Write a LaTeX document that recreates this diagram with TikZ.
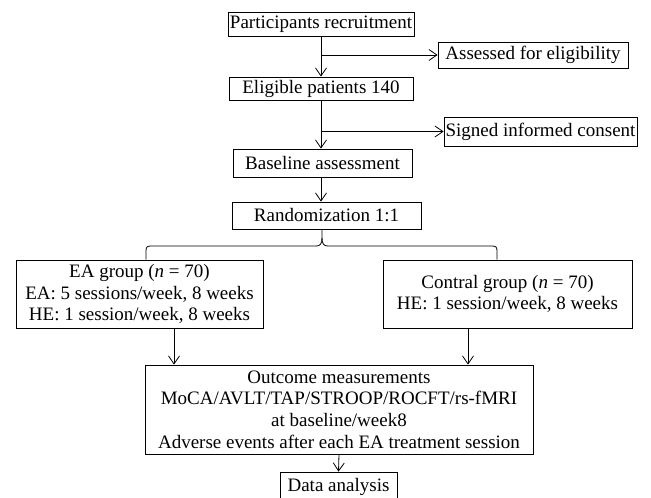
\documentclass[tikz,border=0pt]{standalone}
\usepackage{fontspec}
\setmainfont{Liberation Serif}
\usetikzlibrary{arrows.meta}
\tikzset{
    box/.style={draw, line width=0.8pt, inner sep=0pt, align=center,
        font=\fontsize{19}{21.7}\selectfont},
    link/.style={line width=0.8pt},
    arr/.style={line width=0.8pt, -{Straight Barb[length=8pt,width=11pt]}}
}
\begin{document}
\begin{tikzpicture}[x=1pt,y=-1pt]
    \useasboundingbox (0,0) rectangle (651,498);

    % Enrolment
    \node[box, minimum width=186pt, minimum height=24pt] (recruit) at (321,24) {Participants recruitment};
    \node[box, minimum width=190pt, minimum height=26pt] (assess) at (533,55) {Assessed for eligibility};
    \node[box, minimum width=184pt, minimum height=23pt] (eligible) at (321,88.5) {Eligible patients 140};
    \node[box, minimum width=193pt, minimum height=29pt] (consent) at (540.5,131.5) {Signed informed consent};
    \node[box, minimum width=179pt, minimum height=28pt] (baseline) at (322.5,163) {Baseline assessment};
    \node[box, minimum width=189pt, minimum height=27pt] (rand) at (326.5,215.5) {Randomization 1:1};

    \draw[arr] (recruit.south) -- (eligible.north);
    \draw[arr] (recruit.south |- assess.west) -- (assess.west);
    \draw[arr] (eligible.south) -- (eligible.south |- baseline.north);
    \draw[arr] (eligible.south |- consent.west) -- (consent.west);
    \draw[arr] (eligible.south |- baseline.south) -- (eligible.south |- rand.north);

    % Groups
    \node[box, minimum width=247pt, minimum height=68pt] (ea) at (139.5,294)
        {EA group (\textit{n} = 70)\\EA: 5 sessions/week, 8 weeks\\HE: 1 session/week, 8 weeks};
    \node[box, minimum width=249pt, minimum height=68pt] (ctrl) at (507.5,294)
        {Contral group (\textit{n} = 70)\\HE: 1 session/week, 8 weeks};

    % Allocation brace
    \coordinate (tip) at ([xshift=-4.5pt]rand.south);
    \coordinate (left) at ([xshift=6.5pt]ea.north);
    \coordinate (right) at ([xshift=-10.5pt]ctrl.north);
    \draw[link] (tip) -- (322,238) .. controls (322,244) and (320,246) .. (316,246)
        -- (151,246) .. controls (147,246) and (146,247) .. (146,251) -- (left);
    \draw[link] (322,238) .. controls (322,244) and (324,246) .. (328,246)
        -- (492,246) .. controls (496,246) and (497,247) .. (497,251) -- (right);

    % Follow-up
    \node[box, minimum width=388pt, minimum height=89pt] (outcome) at (339,409.5)
        {Outcome measurements\\MoCA/AVLT/TAP/STROOP/ROCFT/rs-fMRI\\at baseline/week8\\Adverse events after each EA treatment session};
    \node[box, minimum width=117pt, minimum height=30pt] (data) at (338.5,487) {Data analysis};

    \draw[arr] ([xshift=34.5pt]ea.south) -- ([xshift=34.5pt]ea.south |- outcome.north);
    \draw[arr] ([xshift=-39.5pt]ctrl.south) -- ([xshift=-39.5pt]ctrl.south |- outcome.north);
    \draw[arr] (outcome.south) -- (data.north);
\end{tikzpicture}
\end{document}
